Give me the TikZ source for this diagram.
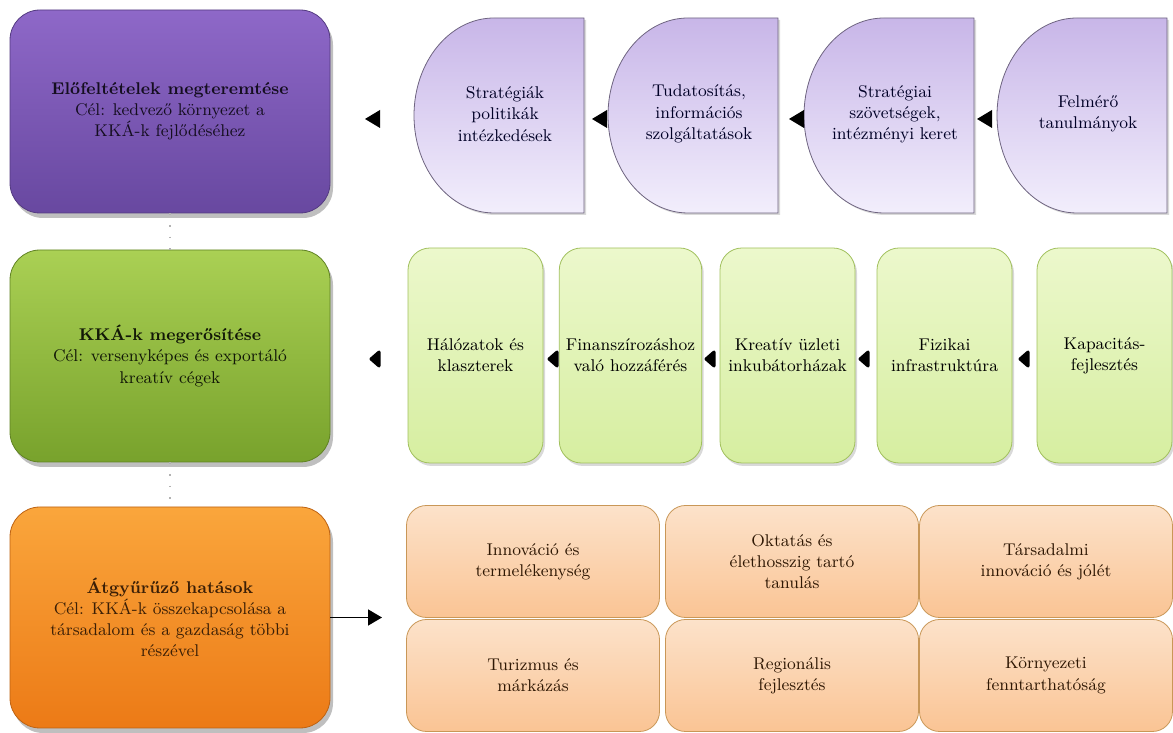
\documentclass[tikz,border=0pt]{standalone}
\usepackage{fontspec}
\usepackage{tikz}
\usetikzlibrary{shadows, arrows.meta}
\definecolor{purpTop}{RGB}{142,104,200}
\definecolor{purpBot}{RGB}{104,72,160}
\definecolor{grnTop}{RGB}{170,208,84}
\definecolor{grnBot}{RGB}{120,162,44}
\definecolor{orTop}{RGB}{250,166,60}
\definecolor{orBot}{RGB}{236,122,22}
\definecolor{lilTop}{RGB}{200,182,232}
\definecolor{lilBot}{RGB}{242,238,252}
\definecolor{limeTop}{RGB}{236,248,204}
\definecolor{limeBot}{RGB}{214,238,160}
\definecolor{peachTop}{RGB}{252,226,202}
\definecolor{peachBot}{RGB}{250,196,148}

\begin{document}
\begin{tikzpicture}[x=0.5pt, y=0.5pt, font=\fontsize{8.5}{10.6}\selectfont]
    \tikzset{
      stage/.style={
        rounded corners=15pt,
        minimum width=160pt,
        align=center,
        drop shadow={shadow xshift=1.5pt, shadow yshift=-2.5pt, opacity=0.5},
      },
      dtext/.style={
        align=center,
        text=black!85!blue,
      },
      dshape/.style={
        top color=lilTop, bottom color=lilBot, draw=black!45!lilTop,
        drop shadow={shadow xshift=1pt, shadow yshift=-1pt, opacity=0.3},
      },
      step box/.style={
        rounded corners=11pt,
        minimum width=67.5pt, minimum height=107.5pt,
        align=center, top color=limeTop, bottom color=limeBot, draw=grnTop!80!gray,
        drop shadow={shadow xshift=1pt, shadow yshift=-1.5pt, opacity=0.3},
      },
      cell/.style={
        rounded corners=10pt,
        minimum width=126.5pt, minimum height=56pt,
        align=center, top color=peachTop, bottom color=peachBot, draw=orTop!60!gray,
        text=black!80!orBot,
      },
      link/.style={gray!60, line width=1pt, dash pattern=on 0.8pt off 5pt},
    }

    \useasboundingbox (0,0) rectangle (1173,733);

    % main stages
    \node[stage, top color=purpTop, bottom color=purpBot, draw=purpBot!80!black,
          minimum height=101.5pt, text=black!80!purpBot] (pre) at (170,621.5)
        {\textbf{Előfeltételek megteremtése}\\Cél: kedvező környezet a\\KKÁ-k fejlődéséhez};
    \node[stage, top color=grnTop, bottom color=grnBot, draw=grnBot!80!black,
          minimum height=106pt, text=black!85!grnBot] (str) at (170,377)
        {\textbf{KKÁ-k megerősítése}\\Cél: versenyképes és exportáló\\kreatív cégek};
    \node[stage, top color=orTop, bottom color=orBot, draw=orBot!80!black,
          minimum height=110.5pt, text=black!75!orBot] (eff) at (170,115.5)
        {\textbf{Átgyűrűző hatások}\\Cél: KKÁ-k összekapcsolása a\\társadalom és a gazdaság többi\\részével};

    \draw[link] (pre.south) -- (str.north);
    \draw[link] (str.south) -- (eff.north);

    % first row: half discs
    \foreach \x/\nm/\txt in {
        499/s1/{Stratégiák\\politikák\\intézkedések},
        693/s2/{Tudatosítás,\\információs\\szolgáltatások},
        889/s3/{Stratégiai\\szövetségek,\\intézményi keret},
        1082/s4/{Felmérő\\tanulmányok}}
    {
        \path[dshape] (\x+85,715) -- (\x+85,520) -- (\x-5,520)
            arc[start angle=270, end angle=90, x radius=80, y radius=97.5] -- cycle;
        \node[dtext] (\nm) at (\x+6,619) {\txt};
    }
    \foreach \x in {372,599,796,984}
        \fill (\x+8,623) -- (\x-7,614) -- (\x+8,605) -- cycle;

    % second row
    \node[step box] (g1) at (475.5,377.5) {Hálózatok és\\klaszterek};
    \node[step box] (g2) at (630.5,377.5) {Finanszírozáshoz\\való hozzáférés};
    \node[step box] (g3) at (787.5,377.5) {Kreatív üzleti\\inkubátorházak};
    \node[step box] (g4) at (944.5,377.5) {Fizikai\\infrastruktúra};
    \node[step box] (g5) at (1104.5,377.5) {Kapacitás-\\fejlesztés};
    \foreach \x in {375,553,710,864,1024}
        \filldraw[line join=round, line width=1.5pt] (\x+4,381) -- (\x-4,374) -- (\x+4,367) -- cycle;

    % third row
    \node[cell] (o1) at (533,171.5) {Innováció és\\termelékenység};
    \node[cell] (o2) at (792,171.5) {Oktatás és\\élethosszig tartó\\tanulás};
    \node[cell] (o3) at (1046,171.5) {Társadalmi\\innováció és jólét};
    \node[cell] (o4) at (533,57.5) {Turizmus és\\márkázás};
    \node[cell] (o5) at (792,57.5) {Regionális\\fejlesztés};
    \node[cell] (o6) at (1046,57.5) {Környezeti\\fenntarthatóság};

    \coordinate (arrtip) at (382,115.5);
    \draw[line width=0.8pt, -{Triangle[length=7pt, width=8pt]}] (eff.east) -- (arrtip);
\end{tikzpicture}
\end{document}
